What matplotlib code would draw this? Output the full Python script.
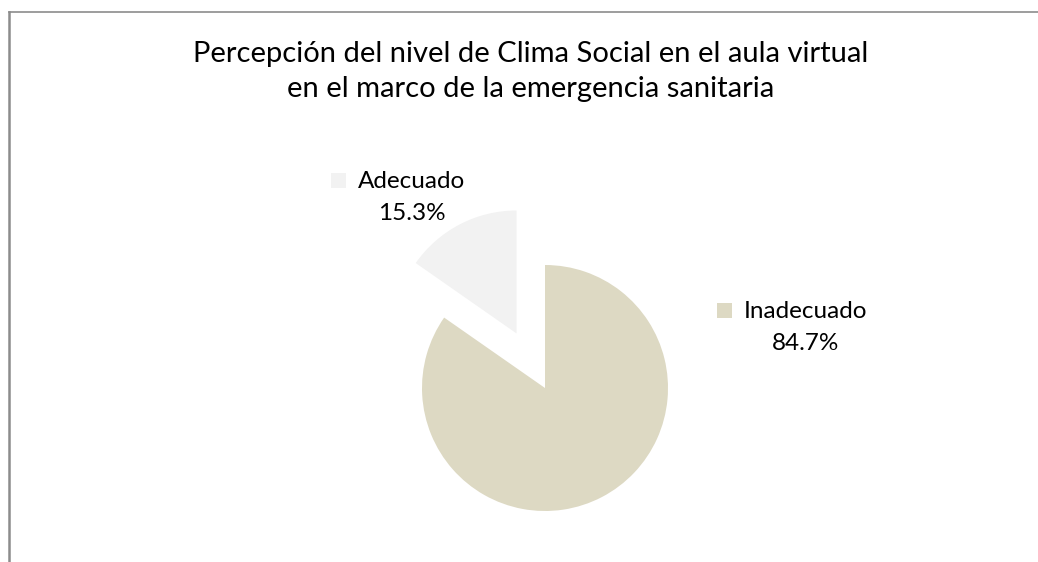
import matplotlib
matplotlib.use("Agg")
import matplotlib.pyplot as plt
from matplotlib.lines import Line2D

# Data
categories = ["Inadecuado", "Adecuado"]
percentages = [84.7, 15.3]
explode_frac = [0.0, 0.5]
colors = ["#DDD9C3", "#F2F2F2"]
title_lines = ["Percepción del nivel de Clima Social en el aula virtual",
               "en el marco de la emergencia sanitaria"]

W, H = 1038, 562
R = 123
plt.rcParams["font.family"] = ["Lato", "DejaVu Sans"]

fig = plt.figure(figsize=(W / 100, H / 100), dpi=100)
# axes in pixel units (y measured upward)
ax = fig.add_axes([0, 0, 1, 1])
ax.axis("off")

# matplotlib's explode is in data units, so scale by the radius
ax.pie(percentages, colors=colors, explode=[e * R for e in explode_frac],
       startangle=90, counterclock=False, radius=R, center=(545, H - 388),
       wedgeprops=dict(linewidth=0))
ax.set_xlim(0, W)
ax.set_ylim(0, H)
ax.set_aspect("equal")

# chart border (left and top edges visible)
fig.add_artist(Line2D([8.5 / W, 8.5 / W], [0, 1 - 11.5 / H], color="#8C8C8C", lw=1.8))
fig.add_artist(Line2D([8.5 / W, 1], [1 - 11.5 / H, 1 - 11.5 / H], color="#8C8C8C", lw=1.2))

for i, line in enumerate(title_lines):
    ax.text(531, H - 62 - 35 * i, line, ha="center", va="baseline",
            fontsize=21, color="black")

# data labels with legend keys: (text centre x, name baseline y, key centre x)
label_pos = {"Inadecuado": (806, 318, 724), "Adecuado": (412, 188, 337.5)}
for cat, pct, col in zip(categories, percentages, colors):
    x, yb, kx = label_pos[cat]
    ax.text(x, H - yb, cat, ha="center", va="baseline", fontsize=17.5)
    ax.text(x, H - yb - 32, f"{pct:.1f}%", ha="center", va="baseline", fontsize=17.5)
    ax.plot([kx], [H - yb + 8.5], marker="s", markersize=10.8, color=col,
            markeredgewidth=0, linestyle="none")

fig.savefig("out.png", dpi=100, facecolor="white")
